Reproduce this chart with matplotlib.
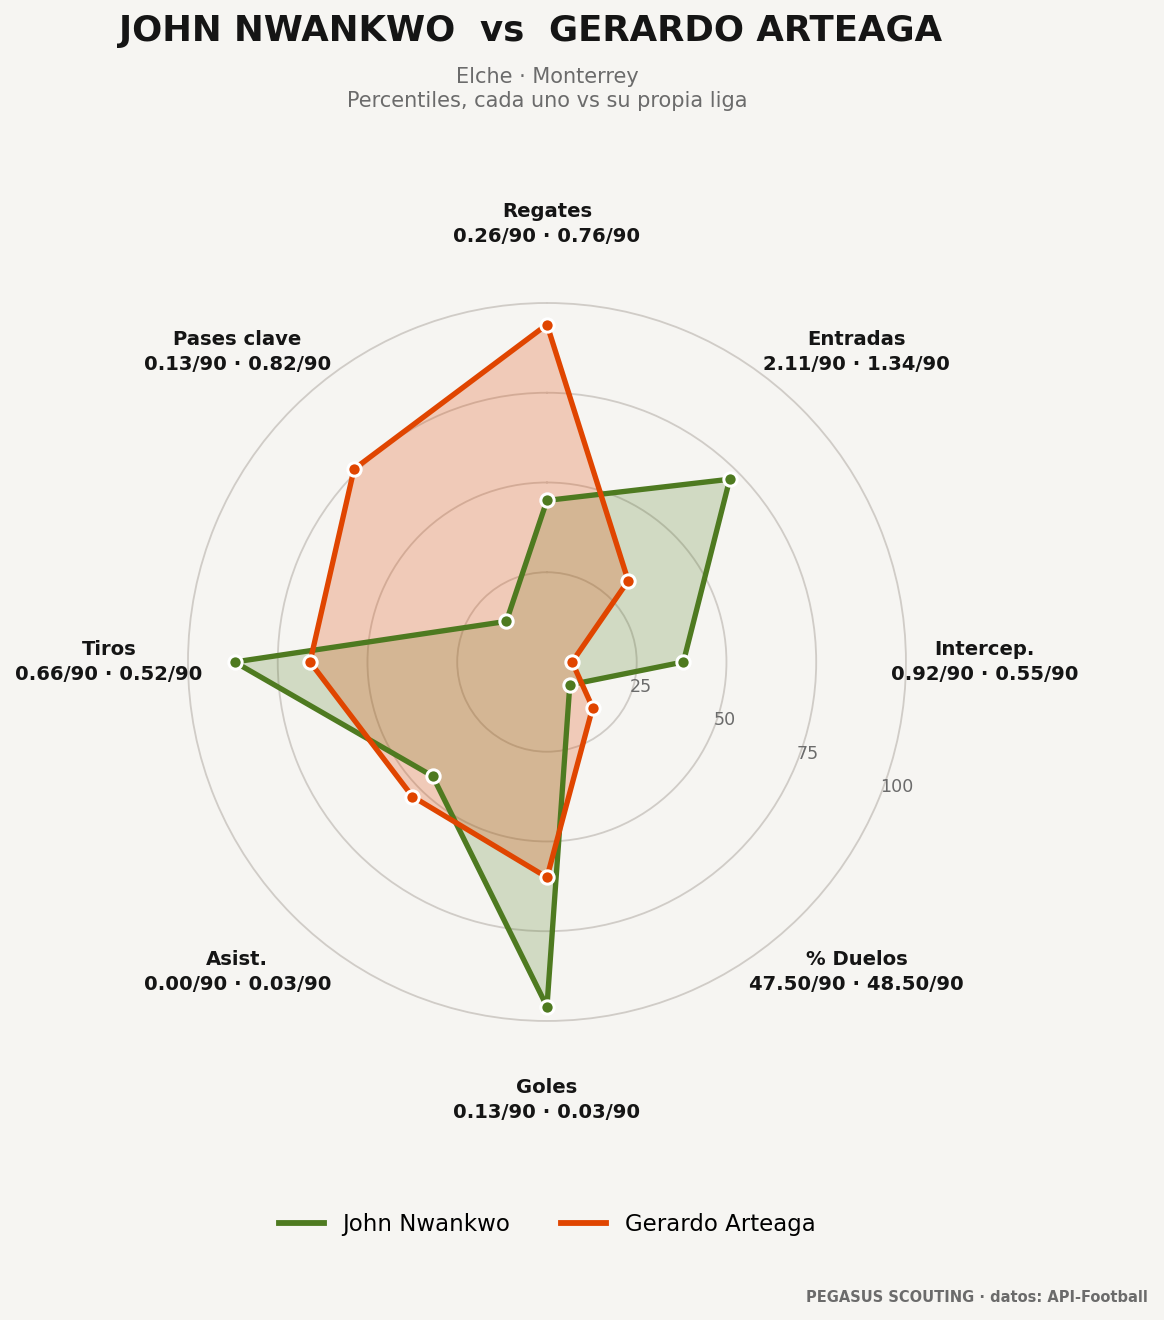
import numpy as np
import matplotlib.pyplot as plt
from matplotlib.lines import Line2D

# categories clockwise from the top
categories = ['Regates', 'Entradas', 'Intercep.', '% Duelos', 'Goles', 'Asist.', 'Tiros', 'Pases clave']
per90_a = ['0.26/90', '2.11/90', '0.92/90', '47.50/90', '0.13/90', '0.00/90', '0.66/90', '0.13/90']
per90_b = ['0.76/90', '1.34/90', '0.55/90', '48.50/90', '0.03/90', '0.03/90', '0.52/90', '0.82/90']

# percentiles
nwankwo = [45, 72, 38, 9, 96, 45, 87, 16]
arteaga = [94, 32, 7, 18, 60, 53, 66, 76]

name_a = 'John Nwankwo'
name_b = 'Gerardo Arteaga'
green = '#4e7a20'
orange = '#e04500'
bg = '#f6f5f2'

n = len(categories)
angles = np.linspace(0, 2 * np.pi, n, endpoint=False)
ang_closed = np.append(angles, angles[0])

fig = plt.figure(figsize=(9.7, 11), dpi=120, facecolor=bg)
ax = fig.add_axes([0.1615, 0.2265, 0.6168, 0.544], projection='polar')
ax.set_facecolor(bg)
ax.set_theta_zero_location('N')
ax.set_theta_direction(-1)
ax.set_ylim(0, 100)

ax.set_yticks([25, 50, 75, 100])
ax.set_yticklabels(['25', '50', '75', '100'], color='#6b6b6b', fontsize=10.5)
ax.set_rlabel_position(112)
ax.yaxis.grid(True, color='#d0ccc7', linewidth=1.1)
for gl in ax.yaxis.get_gridlines():
    gl.set_clip_on(False)
ax.xaxis.grid(False)
ax.set_xticks(angles)
ax.set_xticklabels([])
ax.spines['polar'].set_visible(False)

for vals, col, fa in [(nwankwo, green, 0.22), (arteaga, orange, 0.24)]:
    v = np.append(vals, vals[0])
    ax.fill(ang_closed, v, color=col, alpha=fa, zorder=2)
    ax.plot(ang_closed, v, color=col, linewidth=3.2, zorder=3)
    ax.plot(angles, vals, 'o', color=col, markersize=8, markeredgecolor='white',
            markeredgewidth=1.8, zorder=4)

for a, cat, va_, vb_ in zip(angles, categories, per90_a, per90_b):
    ax.text(a, 122, f'{cat}\n{va_} · {vb_}', ha='center', va='center', linespacing=1.4,
            fontsize=11.8, fontweight='bold', color='#151515')

fig.text(0.456, 1 - 31 / 1320, 'JOHN NWANKWO  vs  GERARDO ARTEAGA', ha='center', va='center',
         fontsize=21.3, fontweight='bold', color='#151515')
fig.text(0.47, 1 - 89 / 1320, 'Elche · Monterrey\nPercentiles, cada uno vs su propia liga',
         ha='center', va='center', fontsize=12.5, color='#6b6b6b')

handles = [Line2D([0], [0], color=green, linewidth=3.5),
           Line2D([0], [0], color=orange, linewidth=3.5)]
fig.legend(handles, [name_a, name_b], loc='center', bbox_to_anchor=(0.47, 1 - 1224 / 1320),
           ncol=2, frameon=False, fontsize=13.7, columnspacing=2.2, handlelength=2.0)

fig.text(0.986, 1 - 1297 / 1320, 'PEGASUS SCOUTING · datos: API-Football', ha='right', va='center',
         fontsize=8.8, fontweight='bold', color='#6b6b6b')

fig.savefig('out.png', dpi=120, facecolor=bg)
